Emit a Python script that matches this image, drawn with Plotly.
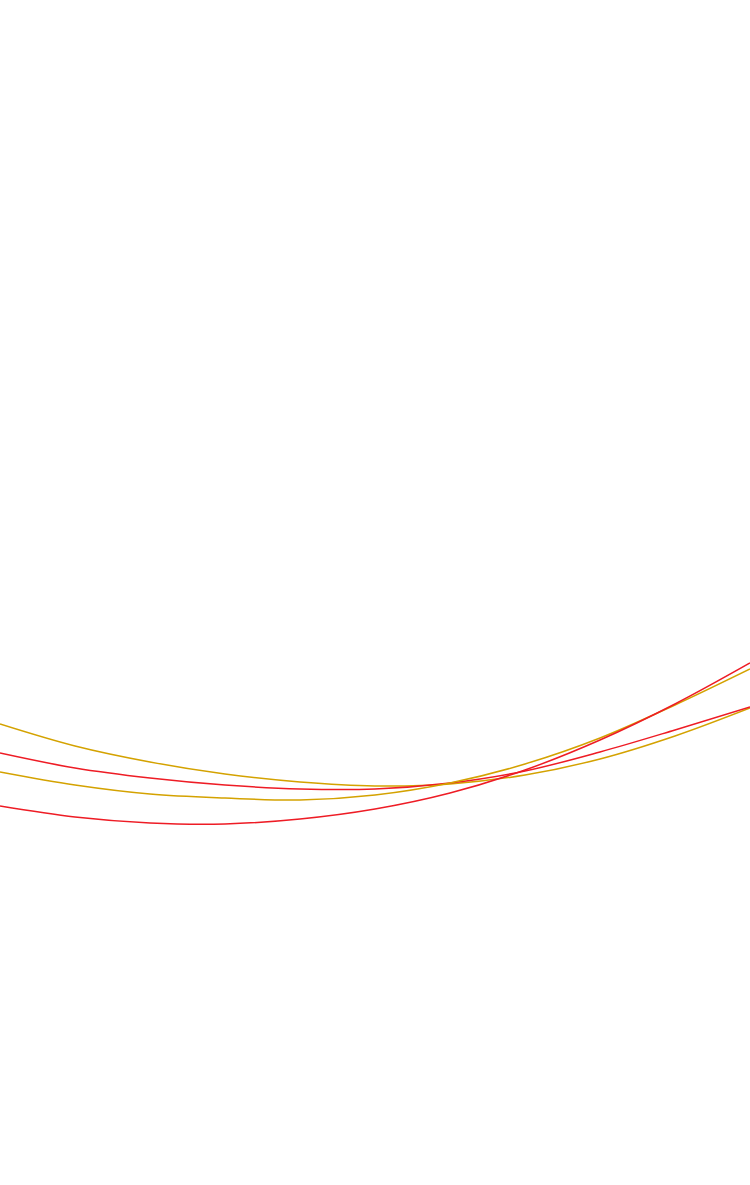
import plotly.graph_objects as go

# horizontal positions shared by all four curves
xs = [0, 75, 150, 225, 300, 375, 450, 525, 600, 675, 750]

# heights measured from the bottom of the canvas
gold_upper = [461, 439, 423, 411, 403, 399, 401, 410, 426, 449, 477]
red_upper = [432, 417, 407, 400, 396, 396, 402, 414, 433, 455, 478]
gold_lower = [413, 400, 391, 387, 385, 390, 402, 421, 447, 480, 516]
red_lower = [379, 368, 362, 361, 366, 376, 392, 415, 445, 481, 522]

fig = go.Figure()
curves = [
    (gold_upper, "#d4a200"),
    (red_upper, "#ee1c25"),
    (gold_lower, "#d4a200"),
    (red_lower, "#ee1c25"),
]
for ys, colour in curves:
    fig.add_trace(go.Scatter(
        x=xs, y=ys, mode="lines",
        line=dict(color=colour, width=1.5, shape="spline", smoothing=1.0),
        hoverinfo="skip", showlegend=False,
    ))

fig.update_layout(
    width=750, height=1185,
    margin=dict(l=0, r=0, t=0, b=0),
    paper_bgcolor="white", plot_bgcolor="white",
    xaxis=dict(range=[0, 750], visible=False, fixedrange=True),
    yaxis=dict(range=[0, 1185], visible=False, fixedrange=True),
)
# drop the page's default body margin so the canvas sits at the window corner
fig.write_html(
    "out.html",
    config={"displayModeBar": False},
    post_script="document.body.style.margin='0';document.body.style.overflow='hidden';",
)
